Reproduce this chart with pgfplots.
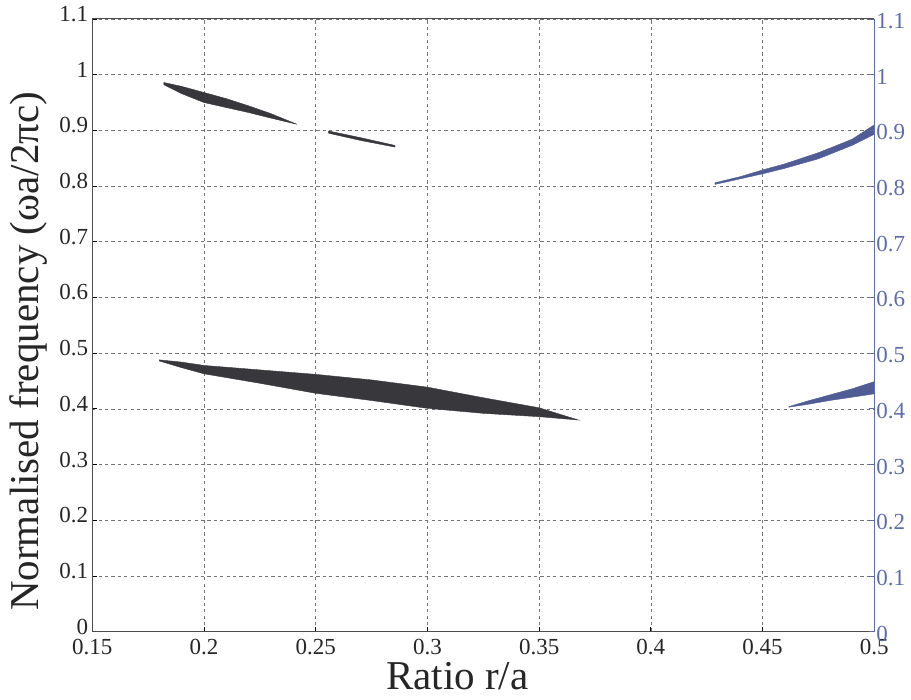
\documentclass[border=0pt]{standalone}
\usepackage{pgfplots}
\pgfplotsset{compat=1.18}
\usepackage{fontspec}
\setmainfont{Liberation Serif}
\definecolor{bandgray}{RGB}{55,55,60}
\definecolor{bandblue}{RGB}{80,92,150}
\definecolor{axblue}{RGB}{95,108,170}
\begin{document}
\begin{tikzpicture}
\path[use as bounding box] (-46.15pt,-34.15pt) rectangle (409.35pt,315.85pt);
\begin{axis}[
  at={(0,0)}, anchor=south west,
  scale only axis, width=391pt, height=306.35pt,
  xmin=0.15, xmax=0.5, ymin=0, ymax=1.1,
  xtick={0.15,0.2,0.25,0.3,0.35,0.4,0.45,0.5},
  ytick={0,0.1,0.2,0.3,0.4,0.5,0.6,0.7,0.8,0.9,1,1.1},
  xticklabels={0.15,0.2,0.25,0.3,0.35,0.4,0.45,0.5},
  yticklabels={0,0.1,0.2,0.3,0.4,0.5,0.6,0.7,0.8,0.9,1,1.1},
  axis y line*=left, axis x line*=bottom,
  tick align=inside, major tick length=2.5pt,
  tick style={black, line width=0.4pt},
  axis line style={black!70, line width=0.5pt},
  grid=major,
  major grid style={black!55, line width=0.35pt, dash pattern=on 1.6pt off 1.6pt},
  tick label style={font=\fontsize{11.5}{12}\selectfont, text=black!85},
  xticklabel style={yshift=0pt},
  yticklabel style={xshift=1.5pt, yshift=2.5pt},
  xlabel={Ratio r/a},
  ylabel={Normalised frequency (ωa/2πc)},
  label style={font=\fontsize{20.5}{21}\selectfont, text=black!85},
  xlabel style={yshift=3pt, xshift=-13pt},
  ylabel style={yshift=-1pt, xshift=-13pt},
  /pgf/number format/assume math mode=true,
]
% upper-left band
\addplot[fill=bandgray, draw=bandgray, line width=0.2pt] coordinates {
(0.182,0.986) (0.19,0.979) (0.20,0.968) (0.21,0.957) (0.22,0.944) (0.23,0.930) (0.2416,0.911)
(0.23,0.922) (0.22,0.932) (0.21,0.941) (0.20,0.950) (0.19,0.966) (0.182,0.982)} --cycle;
\addplot[fill=bandgray, draw=bandgray, line width=0.2pt] coordinates {
(0.2557,0.899) (0.27,0.887) (0.2855,0.873) (0.2855,0.870) (0.27,0.882) (0.2557,0.895)} --cycle;
% lower-left band
\addplot[fill=bandgray, draw=bandgray, line width=0.2pt] coordinates {
(0.180,0.488) (0.19,0.484) (0.20,0.478) (0.225,0.470) (0.25,0.462) (0.275,0.452) (0.30,0.439) (0.325,0.420) (0.35,0.402) (0.3676,0.380)
(0.35,0.386) (0.325,0.392) (0.30,0.401) (0.275,0.415) (0.25,0.428) (0.225,0.446) (0.20,0.463) (0.19,0.474) (0.18,0.486)} --cycle;
% upper-right band
\addplot[fill=bandblue, draw=bandblue, line width=0.2pt] coordinates {
(0.4287,0.806) (0.44,0.817) (0.45,0.829) (0.46,0.840) (0.475,0.860) (0.49,0.884) (0.5,0.910)
(0.5,0.893) (0.49,0.873) (0.475,0.849) (0.46,0.832) (0.45,0.822) (0.44,0.813) (0.4287,0.803)} --cycle;
% lower-right band
\addplot[fill=bandblue, draw=bandblue, line width=0.2pt] coordinates {
(0.4617,0.404) (0.47,0.414) (0.48,0.425) (0.49,0.436) (0.5,0.449)
(0.5,0.427) (0.49,0.421) (0.48,0.415) (0.47,0.408) (0.4617,0.403)} --cycle;
\end{axis}
\begin{axis}[
  at={(0,0)}, anchor=south west,
  scale only axis, width=391pt, height=306.35pt,
  xmin=0.15, xmax=0.5, ymin=0, ymax=1.1,
  axis y line*=right, axis x line*=top,
  xtick=\empty, xticklabels={},
  ytick={0,0.1,0.2,0.3,0.4,0.5,0.6,0.7,0.8,0.9,1,1.1},
  yticklabels={0,0.1,0.2,0.3,0.4,0.5,0.6,0.7,0.8,0.9,1,1.1},
  tick align=inside, major tick length=2.5pt,
  ytick style={axblue, line width=0.4pt},
  y axis line style={axblue, line width=0.5pt},
  x axis line style={black!70, line width=0.5pt},
  yticklabel style={font=\fontsize{11.5}{12}\selectfont, text=axblue, xshift=-2.5pt, yshift=-1pt},
  /pgf/number format/assume math mode=true,
]
\end{axis}
\end{tikzpicture}
\end{document}
